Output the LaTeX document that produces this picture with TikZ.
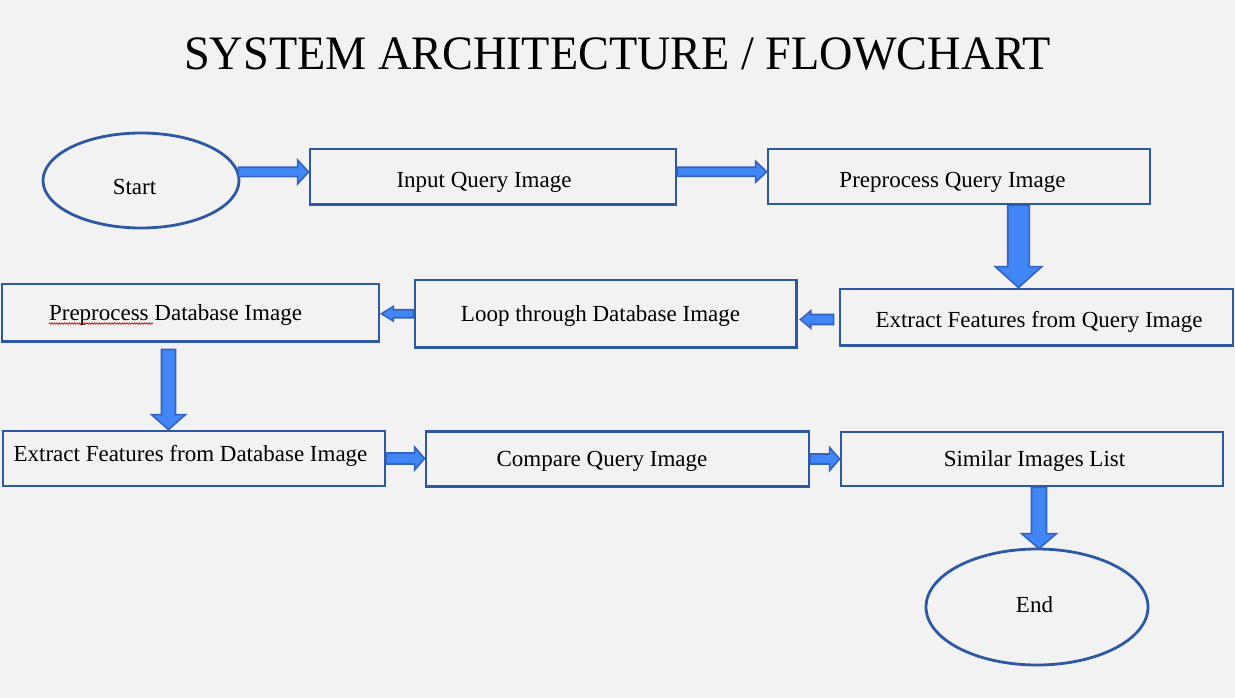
\documentclass[tikz,border=0pt]{standalone}
\usepackage{fontspec}
\setmainfont{Liberation Serif}
\usetikzlibrary{shapes.geometric,calc,decorations.pathmorphing}
\definecolor{bg}{RGB}{242,242,242}
\definecolor{edge}{RGB}{47,88,162}
\definecolor{aedge}{RGB}{52,98,190}
\definecolor{afill}{RGB}{66,133,244}
% horizontal block arrow: tail, tip, shaft half, head half, signed head length
\newcommand\harr[5]{\path[arr] let \p1=#1, \p2=#2 in
  (\x1,{\y1+#3}) -- ({\x2-(#5)},{\y1+#3}) -- ({\x2-(#5)},{\y1+#4}) -- (\x2,\y1)
  -- ({\x2-(#5)},{\y1-#4}) -- ({\x2-(#5)},{\y1-#3}) -- (\x1,{\y1-#3}) -- cycle;}
% vertical (downward) block arrow: tail, tip, shaft half, head half, head length
\newcommand\varr[5]{\path[arr] let \p1=#1, \p2=#2 in
  ({\x1-#3},\y1) -- ({\x1-#3},{\y2+#5}) -- ({\x1-#4},{\y2+#5}) -- (\x1,\y2)
  -- ({\x1+#4},{\y2+#5}) -- ({\x1+#3},{\y2+#5}) -- ({\x1+#3},\y1) -- cycle;}
\begin{document}
\begin{tikzpicture}[x=1pt,y=-1pt,
  box/.style={draw=edge, line width=2.8pt, rectangle, inner sep=0pt},
  oval/.style={draw=edge, line width=2.8pt, ellipse, inner sep=0pt},
  txt/.style={anchor=base, inner sep=0pt, font=\fontsize{23}{27}\selectfont},
  arr/.style={fill=afill, draw=aedge, line width=1.6pt, line join=miter}]
\useasboundingbox (0,0) rectangle (1235,698);
\fill[bg] (0,0) rectangle (1235,698);

\node[anchor=base, inner sep=0pt, font=\fontsize{48}{56}\selectfont] (title)
  at (617.5,70) {\scalebox{0.963}[1]{SYSTEM ARCHITECTURE / FLOWCHART}};

% shapes
\node[oval, minimum width=196pt, minimum height=95pt] (s) at (141,180.5) {};
\node[box, minimum width=366pt, minimum height=55.5pt] (in) at (493,176.75) {};
\node[box, minimum width=382pt, minimum height=55pt] (pq) at (959,176.5) {};
\node[box, minimum width=393pt, minimum height=56.5pt] (eq) at (1036.5,317.25) {};
\node[box, minimum width=381.5pt, minimum height=67.5pt] (loop) at (605.75,313.75) {};
\node[box, minimum width=377pt, minimum height=57.5pt] (pdb) at (190.5,312.75) {};
\node[box, minimum width=382pt, minimum height=55pt] (edb) at (194,458.5) {};
\node[box, minimum width=383pt, minimum height=55pt] (cmp) at (617.5,459) {};
\node[box, minimum width=382pt, minimum height=54pt] (sim) at (1032,459) {};
\node[oval, minimum width=222pt, minimum height=116pt] (e) at (1037,607) {};

% texts
\node[txt] (s-t) at (134.5,195) {Start};
\node[txt] (in-t) at (484,188) {Input Query Image};
\node[txt] (pq-t) at (952.5,187) {Preprocess Query Image};
\node[txt] (eq-t) at (1039,327) {Extract Features from Query Image};
\node[txt] (loop-t) at (600.5,321) {Loop through Database Image};
\node[txt] (pdb-t) at (175.5,320) {Preprocess Database Image};
\node[txt] (edb-t) at (190.5,461) {Extract Features from Database Image};
\node[txt] (cmp-t) at (602,466) {Compare Query Image};
\node[txt] (sim-t) at (1034.5,466.5) {Similar Images List};
\node[txt] (e-t) at (1034.5,612) {End};

% spell-check underline
\draw[red!80!black, line width=0.6pt, decorate,
  decoration={zigzag, segment length=2.5pt, amplitude=0.8pt}]
  ($(pdb-t.base west)+(0,3.5)$) -- ++(104,0);

% connectors
\harr{($(s.east)+(-2,-8.5)$)}{(in.west)}{4.7pt}{12pt}{11pt}
\harr{($(in.east)+(0,-5)$)}{(pq.west)}{4.5pt}{10.5pt}{11pt}
\varr{($(pq.south)+(59.5,0)$)}{(eq.north)}{10.8pt}{23.3pt}{21pt}
\harr{($(eq.west)+(-5,2.25)$)}{($(loop.east)+(2.5,0)$)}{5pt}{8.8pt}{-10.5pt}
\harr{(loop.west)}{($(pdb.east)+(1,0)$)}{4pt}{7.3pt}{-12pt}
\varr{($(pdb.south)+(-22,6.5)$)}{(edb.north)}{7pt}{17pt}{15pt}
\harr{(edb.east)}{(cmp.west)}{5.5pt}{11.5pt}{10pt}
\harr{(cmp.east)}{(sim.west)}{5pt}{11.5pt}{10pt}
\varr{($(sim.south)+(7,0)$)}{($(e.north)+(0,1)$)}{7.5pt}{17.5pt}{15pt}
\end{tikzpicture}
\end{document}
